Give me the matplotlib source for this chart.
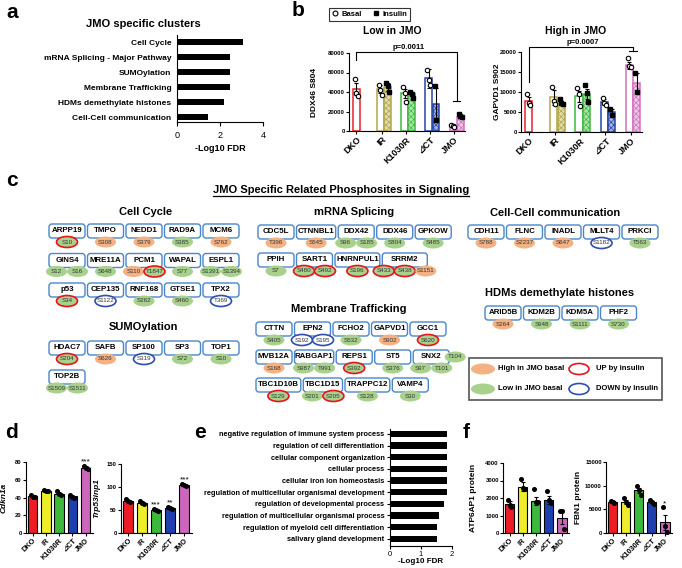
import numpy as np
import matplotlib
matplotlib.use("Agg")
import matplotlib.pyplot as plt
from matplotlib.patches import FancyBboxPatch, Ellipse, Rectangle
from matplotlib.lines import Line2D
from matplotlib.colors import to_rgb

plt.rcParams['font.family'] = ['Liberation Sans', 'DejaVu Sans']
plt.rcParams['font.weight'] = 'bold'
plt.rcParams['axes.labelweight'] = 'bold'
plt.rcParams['hatch.linewidth'] = 0.5
plt.rcParams['axes.linewidth'] = 0.8

# ---------------- data ----------------
# a
a_terms = ["Cell Cycle", "mRNA Splicing - Major Pathway", "SUMOylation",
           "Membrane Trafficking", "HDMs demethylate histones", "Cell-Cell communication"]
a_fdr = [3.05, 2.45, 2.45, 2.45, 2.17, 1.42]

# b
groups = ["DKO", "IR", "K1030R", "⊿CT", "JMO"]
low_basal = [42800, 43000, 38600, 54100, 5900]
low_basal_err = [6000, 4500, 4800, 9500, 1500]
low_basal_pts = [[53500, 39000, 36000], [47000, 42000, 37000], [45000, 38500, 30000],
                 [63000, 52000, 47000], [6000, 5000, 4000]]
low_ins = [np.nan, 44800, 38000, 27600, 14500]
low_ins_err = [0, 4000, 2500, 17000, 1500]
low_ins_pts = [[], [49000, 46000, 40000], [40000, 38000, 34000], [46000, 11000], [17000, 15500, 14000]]

high_basal = [7700, 8700, 8900, 7500, 16700]
high_basal_err = [1000, 1900, 1300, 800, 900]
high_basal_pts = [[9500, 7200, 6800], [11300, 7800, 7000], [11000, 9500, 6500],
                  [8500, 7200, 6800], [18600, 16500, 16200]]
high_ins = [np.nan, 7300, 9500, 5000, 12300]
high_ins_err = [0, 500, 1300, 700, 2400]
high_ins_pts = [[], [8200, 7300, 7000], [11800, 9800, 7400], [5800, 4300], [14700, 9900]]

# c  (site, level H/L/N, insulin U/D/'')
cell_cycle = [
    [("ARPP19", [("S10", "L", "U")]), ("TMPO", [("S308", "H", "")]), ("NEDD1", [("S379", "H", "")]),
     ("RAD9A", [("S385", "L", "")]), ("MCM6", [("S762", "H", "")])],
    [("GINS4", [("S12", "L", ""), ("S16", "L", "")]), ("MRE11A", [("S648", "L", "")]),
     ("PCM1", [("S110", "H", ""), ("T1847", "L", "U")]), ("WAPAL", [("S77", "L", "")]),
     ("ESPL1", [("S1391", "L", ""), ("S1394", "L", "")])],
    [("p53", [("S34", "L", "U")]), ("CEP135", [("S1122", "N", "D")]), ("RNF168", [("S262", "L", "")]),
     ("GTSE1", [("S460", "L", "")]), ("TPX2", [("T369", "N", "D")])],
]
mrna = [
    [("CDC5L", [("T396", "H", "")]), ("CTNNBL1", [("S545", "H", "")]),
     ("DDX42", [("S96", "L", ""), ("S185", "L", "")]), ("DDX46", [("S804", "L", "")]),
     ("GPKOW", [("S485", "L", "")])],
    [("PPIH", [("S7", "L", "")]), ("SART1", [("S480", "L", "U"), ("S492", "L", "U")]),
     ("HNRNPUL1", [("S196", "L", "U")]),
     ("SRRM2", [("S433", "L", "U"), ("S438", "L", "U"), ("S1151", "H", "")])],
]
cellcell = [
    [("CDH11", [("S788", "H", "")]), ("FLNC", [("S2237", "H", "")]), ("INADL", [("S647", "H", "")]),
     ("MLLT4", [("S1182", "N", "D")]), ("PRKCI", [("T563", "L", "")])],
]
sumo = [
    [("HDAC7", [("S204", "L", "U")]), ("SAFB", [("S626", "H", "")]), ("SP100", [("S319", "N", "D")]),
     ("SP3", [("S72", "L", "")]), ("TOP1", [("S10", "L", "")])],
    [("TOP2B", [("S1509", "L", ""), ("S1511", "L", "")])],
]
membrane = [
    [("CTTN", [("S405", "L", "")]), ("EPN2", [("S192", "N", "D"), ("S195", "N", "D")]),
     ("FCHO2", [("S532", "L", "")]), ("GAPVD1", [("S902", "H", "")]), ("GCC1", [("S620", "L", "U")])],
    [("MVB12A", [("S168", "H", "")]), ("RABGAP1", [("S987", "L", ""), ("T991", "L", "")]),
     ("REPS1", [("S392", "L", "U")]), ("ST5", [("S376", "L", "")]),
     ("SNX2", [("S97", "L", ""), ("T101", "L", ""), ("T104", "L", "", "side")])],
    [("TBC1D10B", [("S129", "L", "U")]), ("TBC1D15", [("S201", "L", ""), ("S205", "L", "U")]),
     ("TRAPPC12", [("S128", "L", "")]), ("VAMP4", [("S30", "L", "")])],
]
hdms = [
    [("ARID5B", [("S264", "H", "")]), ("KDM2B", [("S948", "L", "")]), ("KDM5A", [("S1111", "L", "")]),
     ("PHF2", [("S730", "L", "")])],
]

# d
d_cdkn = [41.5, 47.5, 44.5, 41.7, 73.5]
d_cdkn_err = [1.2, 0.8, 2.0, 0.8, 1.5]
d_cdkn_pts = [[43, 41, 40.5], [48, 47.5, 47], [47, 44, 42.5], [42.5, 41, 40], [75.5, 73, 72]]
d_cdkn_sig = ["", "", "", "", "***"]
d_trp = [70, 66, 50, 54, 105]
d_trp_err = [2, 2.5, 2, 2, 1.5]
d_trp_pts = [[73, 70, 68], [69, 66, 63], [52, 50, 48], [57, 54, 52], [107, 105, 103]]
d_trp_sig = ["", "", "***", "**", "***"]

# e
e_terms = ["negative regulation of immune system process", "regulation of cell differentiation",
           "cellular component organization", "cellular process", "cellular iron ion homeostasis",
           "regulation of multicellular organismal development", "regulation of developmental process",
           "regulation of multicellular organismal process", "regulation of myeloid cell differentiation",
           "salivary gland development"]
e_fdr = [1.84, 1.84, 1.84, 1.84, 1.84, 1.84, 1.75, 1.59, 1.5, 1.5]

# f
f_atp = [1650, 2650, 1850, 1880, 870]
f_atp_err = [170, 250, 230, 250, 380]
f_atp_pts = [[1900, 1600, 1500], [3100, 2600, 2500], [2500, 1800, 1800], [2400, 1900, 1700], [1250, 1250, 250]]
f_fbn = [6500, 6500, 9000, 6600, 2300]
f_fbn_err = [200, 400, 600, 250, 1600]
f_fbn_pts = [[6800, 6500, 6300], [7300, 6500, 5900], [10000, 9000, 8000], [6900, 6500, 6200], [5500, 1500, 300]]
f_fbn_sig = ["", "", "", "", "*"]

# ---------------- styles ----------------
b_cols = ['#e8212a', '#b3a647', '#3dba3d', '#2344ad', '#d272c0']
fill_cols = ['#ee1c24', '#eded2a', '#3cb83c', '#1f3fae', '#cc66bb']
box_blue = '#4a86c8'
lvl_col = {"H": '#f4b183', "L": '#a9d18e', "N": 'white'}
ins_col = {"U": '#e8141c', "D": '#2f4fb0', "": None}

W, H = 682, 568
fig = plt.figure(figsize=(W / 100, H / 100), dpi=100)


def px_axes(x0, y0, x1, y1):
    return fig.add_axes([x0 / W, 1 - y1 / H, (x1 - x0) / W, (y1 - y0) / H])


def light(c, f=0.6):
    r = np.array(to_rgb(c))
    return tuple(r + (1 - r) * f)


# overlay for text / diagram
ov = fig.add_axes([0, 0, 1, 1])
ov.set_xlim(0, W)
ov.set_ylim(H, 0)
ov.axis('off')

for lab, x, y in [("a", 12, 12), ("b", 298, 10), ("c", 12, 180), ("d", 12, 433), ("e", 200, 433), ("f", 466, 433)]:
    ov.text(x, y, lab, fontsize=15, fontweight='bold', ha='center', va='center')

# ---------------- a ----------------
ax = px_axes(177, 35, 263, 122)
ya = np.arange(len(a_terms))
ax.barh(ya, a_fdr, height=0.42, color='black')
ax.set_ylim(5.33, -0.47)
ax.set_xlim(0, 4)
ax.set_xticks([0, 2, 4])
ax.set_yticks(ya)
ax.set_yticklabels(a_terms, fontsize=6)
ax.tick_params(axis='y', length=0, pad=4)
ax.tick_params(axis='x', labelsize=6.5, length=3)
for t in ax.get_xticklabels():
    t.set_fontweight('normal')
ax.set_xlabel("-Log10 FDR", fontsize=6.5, labelpad=3)
ax.spines[['top', 'right']].set_visible(False)
ov.text(143, 24, "JMO specific clusters", fontsize=8, fontweight='bold', ha='center', va='center')


# ---------------- b ----------------
def b_panel(box, basal, berr, bpts, ins, ierr, ipts, ylim, yticks, ylabel, ylab_x, title, tx, pval, drop_dko, t_jmo, yb):
    ax = px_axes(*box)
    x = np.arange(5)
    off, w = 0.15, 0.28
    ax.bar(x - off, basal, w, facecolor='white', edgecolor=b_cols, lw=1.1)
    ins = np.array(ins, dtype=float)
    ax.bar(x[1:] + off, ins[1:], w, facecolor=[light(c) for c in b_cols[1:]],
           edgecolor=b_cols[1:], lw=1.1, hatch='xxxxxx')
    ax.errorbar(x - off, basal, yerr=berr, fmt='none', ecolor='black', elinewidth=0.8, capsize=1.5, capthick=0.8)
    ax.errorbar(x[1:] + off, ins[1:], yerr=ierr[1:], fmt='none', ecolor='black', elinewidth=0.8, capsize=1.5, capthick=0.8)
    jit = [-0.06, 0.0, 0.06]
    for i in range(5):
        p = bpts[i]
        ax.plot(i - off + np.array(jit[:len(p)]), p, 'o', ms=3.2, mfc='white', mec='black', mew=0.8, clip_on=False)
        p = ipts[i]
        if p:
            ax.plot(i + off + np.array(jit[:len(p)]), p, 's', ms=3, color='black', clip_on=False)
    ax.set_xlim(-0.45, 4.35)
    ax.set_ylim(*ylim)
    ax.set_yticks(yticks)
    ax.tick_params(axis='y', labelsize=4.3, length=2, pad=1)
    ax.set_xticks([-off, 0.9, 1.9, 2.9, 3.9])
    ax.set_xticklabels(groups, rotation=45, ha='right', rotation_mode='anchor', fontsize=6.5)
    ax.tick_params(axis='x', length=2, pad=1)
    ax.spines[['top', 'right']].set_visible(False)
    ax.set_ylabel(ylabel, fontsize=6)
    x0 = box[0]
    ax.yaxis.set_label_coords((ylab_x - x0) / (box[2] - box[0]), 0.5)
    # bracket
    ax.plot([-off, -off, 4, 4], [drop_dko, yb, yb, t_jmo], color='black', lw=0.8, clip_on=False)
    ax.plot([4 - off, 4 + off], [t_jmo, t_jmo], color='black', lw=0.8, clip_on=False)
    ax.text(2, yb + (ylim[1] - ylim[0]) * 0.015, pval, ha='center', va='bottom', fontsize=5.5)
    ov.text(tx, 31, title, fontsize=7.5, fontweight='bold', ha='center', va='center')


b_panel((349, 53, 465, 131), low_basal, low_basal_err, low_basal_pts, low_ins, low_ins_err, low_ins_pts,
        (0, 80000), [0, 20000, 40000, 60000, 80000], "DDX46 S804", 318, "Low in JMO", 392, "p=0.0011",
        73000, 30700, 81300)
b_panel((521, 52, 642, 132), high_basal, high_basal_err, high_basal_pts, high_ins, high_ins_err, high_ins_pts,
        (0, 20000), [0, 5000, 10000, 15000, 20000], "GAPVD1 S902", 501, "High in JMO", 576, "p=0.0007",
        12600, 20300, 21300)

handles = [Line2D([], [], ls='none', marker='o', mfc='white', mec='black', ms=3.5, mew=0.8),
           Line2D([], [], ls='none', marker='s', color='black', ms=3.5)]
leg = fig.legend(handles, ["Basal", "Insulin"], loc='upper left', bbox_to_anchor=(325 / W, 1 - 4 / H),
                 ncol=2, fontsize=5.5, frameon=True, fancybox=False, edgecolor='black', borderpad=0.35,
                 handletextpad=0.3, columnspacing=1.4, handlelength=1.0)
leg.get_frame().set_linewidth(0.8)

# ---------------- c ----------------
title_c = ov.text(341, 190, "JMO Specific Related Phosphosites in Signaling", fontsize=8, fontweight='bold',
                  ha='center', va='center')
for txt, x, y in [("Cell Cycle", 146, 212), ("mRNA Splicing", 354, 212), ("Cell-Cell communication", 555, 213),
                  ("SUMOylation", 143, 327), ("Membrane Trafficking", 349, 309),
                  ("HDMs demethylate histones", 560, 293)]:
    ov.text(x, y, txt, fontsize=8, fontweight='bold', ha='center', va='center')


def draw_group(rows, x0, y0, dy):
    for r, row in enumerate(rows):
        x = x0
        top = y0 + r * dy
        for name, sites in row:
            reg = [s for s in sites if len(s) < 4]
            w = max(36, 5.6 * len(name), 15 * len(reg))
            ov.add_patch(FancyBboxPatch((x, top), w, 14, boxstyle="round,pad=0,rounding_size=3",
                                        fc='white', ec=box_blue, lw=1))
            ov.text(x + w / 2, top + 6.5, name, ha='center', va='center', fontsize=5.7, fontweight='bold')
            k = 0
            for s in sites:
                if len(s) > 3:
                    cx, cy = x + w + 6, top + 7
                else:
                    cx = x + w / 2 + (k - (len(reg) - 1) / 2) * 21
                    cy = top + 18
                    k += 1
                ec = ins_col[s[2]]
                ov.add_patch(Ellipse((cx, cy), 21, 11, fc=lvl_col[s[1]], ec=ec if ec else 'none',
                                     lw=1.2 if ec else 0))
                ov.text(cx, cy, s[0], ha='center', va='center', fontsize=4.5, fontweight='normal', color='#333333')
            x += w + 2.5


draw_group(cell_cycle, 49, 224, 29.5)
draw_group(mrna, 258, 225, 28)
draw_group(cellcell, 468, 225, 28)
draw_group(sumo, 49, 341, 29)
draw_group(membrane, 256, 322, 28)
draw_group(hdms, 485, 306, 28)

ov.add_patch(Rectangle((469, 358), 193, 42, fill=False, ec='#555555', lw=1.2))
ov.add_patch(Ellipse((483, 369), 24, 11, fc=lvl_col["H"], ec='none'))
ov.add_patch(Ellipse((483, 389), 24, 11, fc=lvl_col["L"], ec='none'))
ov.add_patch(Ellipse((579, 369), 20, 11, fc='white', ec=ins_col["U"], lw=1.2))
ov.add_patch(Ellipse((579, 389), 20, 11, fc='white', ec=ins_col["D"], lw=1.2))
for txt, x, y in [("High in JMO basal", 498, 369), ("Low in JMO basal", 498, 389),
                  ("UP by insulin", 596, 369), ("DOWN by insulin", 596, 389)]:
    ov.text(x, y, txt, fontsize=5.5, fontweight='bold', ha='left', va='center')


# ---------------- d / f ----------------
def fill_panel(box, vals, errs, pts, ylim, yticks, ylabel, ylab_x, sig, italic=False, sig_pad=0.0):
    ax = px_axes(*box)
    x = np.arange(5)
    ax.bar(x, vals, 0.72, color=fill_cols, edgecolor='black', lw=0.8)
    ax.errorbar(x, vals, yerr=errs, fmt='none', ecolor='black', elinewidth=0.8, capsize=1.5, capthick=0.8)
    jit = np.array([-0.15, 0.0, 0.15])
    for i, p in enumerate(pts):
        ax.plot(i + jit[:len(p)], p, 'o', ms=2.6, color='black', clip_on=False)
    for i, s in enumerate(sig):
        if s:
            ax.text(i, max(pts[i]) + sig_pad, s, ha='center', va='bottom', fontsize=6, fontweight='normal')
    ax.set_xlim(-0.5, 4.55)
    ax.set_ylim(*ylim)
    ax.set_yticks(yticks)
    ax.tick_params(axis='y', labelsize=4.2, length=2, pad=1)
    ax.set_xticks(x)
    ax.set_xticklabels(groups, rotation=45, ha='right', rotation_mode='anchor', fontsize=5.3)
    ax.tick_params(axis='x', length=2, pad=1)
    ax.spines[['top', 'right']].set_visible(False)
    ax.set_ylabel(ylabel, fontsize=6, fontstyle='italic' if italic else 'normal')
    ax.yaxis.set_label_coords((ylab_x - box[0]) / (box[2] - box[0]), 0.5)
    return ax


fill_panel((26, 462, 93, 533), d_cdkn, d_cdkn_err, d_cdkn_pts, (0, 80), [0, 20, 40, 60, 80], "Cdkn1a", 8,
           d_cdkn_sig, italic=True, sig_pad=0.5)
fill_panel((121, 464, 192, 533), d_trp, d_trp_err, d_trp_pts, (0, 150), [0, 50, 100, 150], "Trp53inp1", 100,
           d_trp_sig, italic=True, sig_pad=1)
fill_panel((503, 463, 569, 533), f_atp, f_atp_err, f_atp_pts, (0, 4000), [0, 1000, 2000, 3000, 4000],
           "ATP6AP1 protein", 477, [""] * 5)
fill_panel((606, 462, 672, 533), f_fbn, f_fbn_err, f_fbn_pts, (0, 15000), [0, 5000, 10000, 15000],
           "FBN1 protein", 582, f_fbn_sig, sig_pad=0)

# ---------------- e ----------------
ax = px_axes(390, 429, 452, 546)
ye = np.arange(len(e_terms))
ax.barh(ye, e_fdr, height=0.55, color='black')
ax.set_ylim(9.62, -0.42)
ax.set_xlim(0, 2)
ax.set_xticks([0, 1, 2])
ax.set_yticks(ye)
ax.set_yticklabels(e_terms, fontsize=5.3)
ax.tick_params(axis='y', length=2, pad=2)
ax.tick_params(axis='x', labelsize=5.5, length=2.5, pad=1)
for t in ax.get_xticklabels():
    t.set_fontweight('normal')
ax.set_xlabel("-Log10 FDR", fontsize=5.8, labelpad=0)
ax.spines[['top', 'right']].set_visible(False)

# underline for c title
fig.canvas.draw()
bb = title_c.get_window_extent().transformed(ov.transData.inverted())
ov.plot([bb.x0, bb.x1], [max(bb.y0, bb.y1) + 0.5] * 2, color='black', lw=0.9)

fig.savefig("out.png", dpi=100)
